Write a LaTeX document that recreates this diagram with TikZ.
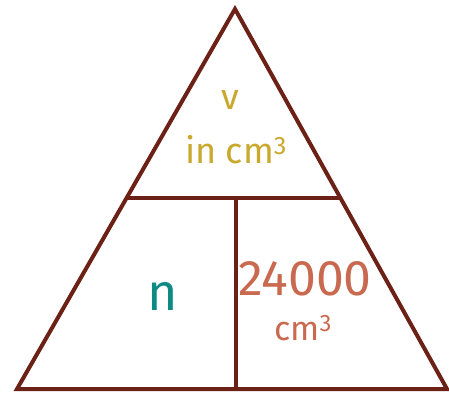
\documentclass[tikz,border=0pt]{standalone}
\usepackage{fontspec}
\setmainfont{Fira Sans}
\usetikzlibrary{calc}
\definecolor{framebrown}{HTML}{6B2116}
\definecolor{volgold}{HTML}{C9A82C}
\definecolor{molteal}{HTML}{0E8A84}
\definecolor{gassalmon}{HTML}{C96A50}
\begin{document}
\begin{tikzpicture}[x=1pt,y=-1pt,
  edge/.style={draw=framebrown,line width=4pt,line join=miter},
  every node/.style={inner sep=0pt,outer sep=0pt}]
\useasboundingbox (0,0) rectangle (449,393);

\coordinate (apex) at (235,9);
\coordinate (bl) at (17,389);
\coordinate (br) at (447,389);
\coordinate (ml) at ($(apex)!0.497!(bl)$);
\coordinate (mr) at ($(apex)!0.497!(br)$);
\coordinate (mbot) at (236,389);
\coordinate (mtop) at (ml -| mbot);

\draw[edge] (apex) -- (bl) -- (br) -- cycle;
\draw[edge] (ml) -- (mr);
\draw[edge] (mtop) -- (mbot);

\node[text=volgold,font=\fontsize{36}{40}\selectfont] (vol) at (230,100) {v};
\node[text=volgold,font=\fontsize{36}{40}\selectfont] (volunit) at (236,150) {in cm\textsuperscript{3}};
\node[text=molteal,font=\fontsize{52}{56}\selectfont] (mol) at (163,296) {n};
\node[text=gassalmon,font=\fontsize{50}{54}\selectfont] (molvol) at (305,279) {24000};
\node[text=gassalmon,font=\fontsize{34}{38}\selectfont] (molunit) at (303,328) {cm\textsuperscript{3}};
\end{tikzpicture}
\end{document}
